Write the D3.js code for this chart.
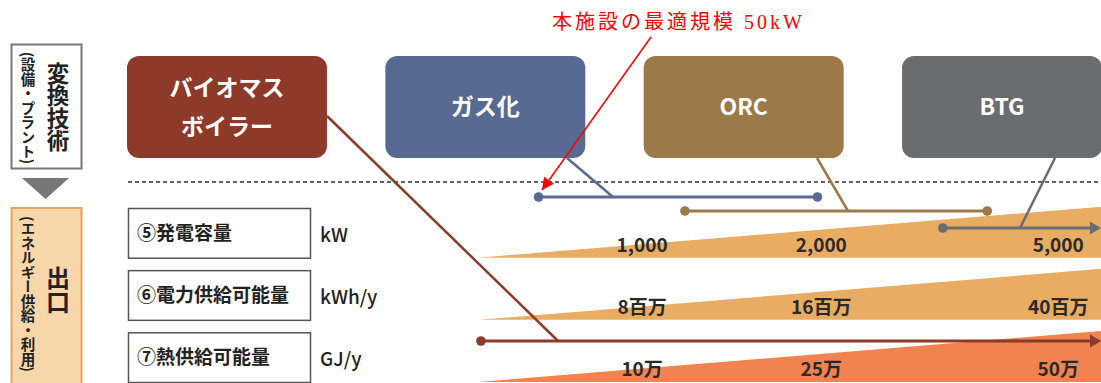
<!DOCTYPE html>
<html>
<head>
<meta charset="utf-8">
<script src="https://cdn.jsdelivr.net/npm/d3@7"></script>
<style>
  html, body { margin: 0; padding: 0; background: #fff; }
  svg { display: block; }
  text { font-family: "Noto Sans CJK JP", "Noto Sans", sans-serif; }
</style>
</head>
<body>
<svg id="chart" width="1101" height="383"></svg>
<script>
// Conversion technologies and their applicable scale ranges (kW)
const techNames = ["バイオマス\nボイラー", "ガス化", "ORC", "BTG"];
const techColors = ["#8e3a2b", "#566a92", "#9b7948", "#6b6c70"];
const techRangeStart = [536, 670, 1180, 3200];
const techRangeEnd = [5900, 1970, 3800, 5900];
const techOpenEnded = [true, false, false, true];

// Output rows
const outputNames = ["⑤発電容量", "⑥電力供給可能量", "⑦熱供給可能量"];
const outputUnits = ["kW", "kWh/y", "GJ/y"];
const outputColors = ["#e8ac63", "#e8ac63", "#f0834f"];

// Capacity ticks and the matching label in each output row
const capacityTicks = [1000, 2000, 5000];
const kwLabels = ["1,000", "2,000", "5,000"];
const kwhLabels = ["8百万", "16百万", "40百万"];
const gjLabels = ["10万", "25万", "50万"];
const rowLabels = [kwLabels, kwhLabels, gjLabels];

// Scale span covered by the wedges
const scaleMin = 530, scaleMax = 5900;

const svg = d3.select("#chart");

// Shared log scale for plant capacity
const x = d3.scaleLog().domain([scaleMin, scaleMax]).range([478, 1101]);

// Wedge thickness grows with capacity
const thick = d3.scaleLog().domain([scaleMin, scaleMax]).range([0, 51]);

// Row layout
const rowY = d3.scaleBand().domain(d3.range(outputNames.length)).range([208, 382]).paddingInner(0.2);

// Tech box layout
const boxX = d3.scaleBand().domain(d3.range(techNames.length)).range([127, 1102]).paddingInner(0.226);

// ---------- left side panel ----------
svg.append("rect").attr("x", 11.5).attr("y", 44.5).attr("width", 70).attr("height", 124)
  .attr("fill", "#fff").attr("stroke", "#777").attr("stroke-width", 2);
svg.append("text").attr("x", 58).attr("y", 107).attr("text-anchor", "middle")
  .style("writing-mode", "vertical-rl").attr("font-size", 22.5).attr("font-weight", 700)
  .attr("fill", "#222").text("変換技術");
svg.append("text").attr("x", 28).attr("y", 108).attr("text-anchor", "middle")
  .style("writing-mode", "vertical-rl").attr("font-size", 14.5).attr("font-weight", 700)
  .attr("fill", "#222").text("(設備・プラント)");
svg.append("path").attr("d", "M22,178 L69,178 L45.5,199 Z").attr("fill", "#777");

svg.append("rect").attr("x", 11.5).attr("y", 208).attr("width", 70).attr("height", 180)
  .attr("fill", "#f7d6a9").attr("stroke", "#e4a656").attr("stroke-width", 2);
svg.append("text").attr("x", 58).attr("y", 290).attr("text-anchor", "middle")
  .style("writing-mode", "vertical-rl").attr("font-size", 24).attr("font-weight", 700)
  .attr("fill", "#222").text("出口");
svg.append("text").attr("x", 28).attr("y", 294).attr("text-anchor", "middle")
  .style("writing-mode", "vertical-rl").attr("font-size", 14.5).attr("font-weight", 700)
  .attr("fill", "#222").text("(エネルギー供給・利用)");

// ---------- technology boxes ----------
const boxTop = 56, boxH = 102;
const boxes = svg.append("g");
techNames.forEach((name, i) => {
  const bx = boxX(i), bw = boxX.bandwidth();
  boxes.append("rect").attr("x", bx).attr("y", boxTop).attr("width", bw).attr("height", boxH)
    .attr("rx", 12).attr("fill", techColors[i]);
  const lines = name.split("\n");
  const t = boxes.append("text").attr("text-anchor", "middle").attr("fill", "#fff")
    .attr("font-size", 23).attr("font-weight", 700);
  lines.forEach((ln, j) => {
    t.append("tspan").attr("x", bx + bw / 2)
      .attr("y", boxTop + boxH / 2 + 8 + (j - (lines.length - 1) / 2) * 39).text(ln);
  });
});

// divider
svg.append("line").attr("x1", 128).attr("x2", 1101).attr("y1", 182).attr("y2", 182)
  .attr("stroke", "#333").attr("stroke-width", 1.5).attr("stroke-dasharray", "4,3");

// ---------- output rows ----------
outputNames.forEach((name, i) => {
  const y0 = rowY(i), h = rowY.bandwidth(), yb = y0 + h;
  svg.append("rect").attr("x", 128.5).attr("y", y0 + 0.5).attr("width", 182).attr("height", h)
    .attr("fill", "#fff").attr("stroke", "#555").attr("stroke-width", 1.5);
  svg.append("text").attr("x", 137).attr("y", y0 + h / 2 + 7).attr("font-size", 19)
    .attr("font-weight", 700).attr("fill", "#222").text(name);
  svg.append("text").attr("x", 320).attr("y", y0 + h / 2 + 9).attr("font-size", 19)
    .attr("font-weight", 500).attr("fill", "#222").text(outputUnits[i]);

  // wedge
  const xs = [scaleMin, scaleMax];
  svg.append("path")
    .attr("d", `M${x(xs[0])},${yb} L${x(xs[1])},${yb - thick(xs[1])} L${x(xs[1])},${yb} Z`)
    .attr("fill", outputColors[i]);

  // value labels
  capacityTicks.forEach((v, k) => {
    svg.append("text").attr("x", x(v)).attr("y", yb - 6).attr("text-anchor", "middle")
      .attr("font-size", 19).attr("font-weight", 700).attr("fill", "#2a2a2a")
      .text(rowLabels[i][k]);
  });
});

// ---------- technology ranges ----------
const rangeY = [341, 197, 211, 228];
const connBox = [[327, 116], [567, 158], [817, 158], [1055, 158]];
const connEnd = [558, 613, 848, 1020];
const ranges = svg.append("g");
techNames.forEach((name, i) => {
  const c = techColors[i], y = rangeY[i];
  const xa = x(techRangeStart[i]);
  const xb = techOpenEnded[i] ? x(techRangeEnd[i]) - 9 : x(techRangeEnd[i]);
  ranges.append("line").attr("x1", connBox[i][0]).attr("y1", connBox[i][1])
    .attr("x2", connEnd[i]).attr("y2", y).attr("stroke", c).attr("stroke-width", 2.5);
  ranges.append("line").attr("x1", xa).attr("x2", xb).attr("y1", y).attr("y2", y)
    .attr("stroke", c).attr("stroke-width", 3);
  ranges.append("circle").attr("cx", xa).attr("cy", y).attr("r", 4.8).attr("fill", c);
  if (techOpenEnded[i]) {
    const xe = x(techRangeEnd[i]);
    ranges.append("path").attr("d", `M${xe - 11},${y - 6.5} L${xe},${y} L${xe - 11},${y + 6.5} Z`)
      .attr("fill", c);
  } else {
    ranges.append("circle").attr("cx", xb).attr("cy", y).attr("r", 4.8).attr("fill", c);
  }
});

// ---------- annotation ----------
svg.append("defs").append("marker").attr("id", "redHead").attr("viewBox", "0 0 10 10")
  .attr("refX", 10).attr("refY", 5).attr("markerWidth", 14).attr("markerHeight", 12)
  .attr("markerUnits", "userSpaceOnUse").attr("orient", "auto")
  .append("path").attr("d", "M0,0 L10,5 L0,10 Z").attr("fill", "#ff0000");
svg.append("line").attr("x1", 651).attr("y1", 37).attr("x2", 542).attr("y2", 190)
  .attr("stroke", "#ff0000").attr("stroke-width", 1.5).attr("marker-end", "url(#redHead)");
svg.append("text").attr("x", 552).attr("y", 29).attr("font-size", 20)
  .attr("fill", "#ff0000").attr("letter-spacing", 3)
  .style("font-family", "'Liberation Serif', 'DejaVu Serif', 'Noto Sans CJK JP', serif")
  .text("本施設の最適規模 50kW");
</script>
</body>
</html>
